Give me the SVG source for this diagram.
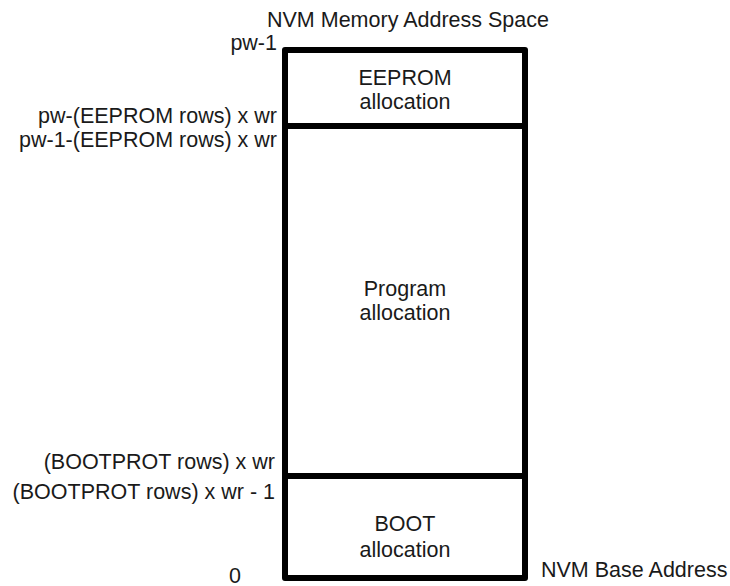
<svg xmlns="http://www.w3.org/2000/svg" width="730" height="586" viewBox="0 0 730 586">
<style>
text{font-family:"Liberation Sans",Arial,sans-serif;font-size:21.5px;fill:#1a1a1a}
.r{text-anchor:end}
.m{text-anchor:middle}
.box{fill:#fff;stroke:#000;stroke-width:6;stroke-linejoin:round}
.div{stroke:#000;stroke-width:6}
</style>
<rect width="730" height="586" fill="#fff"/>
<text class="m" x="408" y="27">NVM Memory Address Space</text>
<g id="memory">
<rect class="box" x="285" y="50" width="240" height="528"/>
</g>
<g id="connectors">
<line class="div" x1="285" y1="126" x2="525" y2="126"/>
<line class="div" x1="285" y1="476" x2="525" y2="476"/>
</g>
<g id="eeprom">
<text class="m" x="405" y="85">EEPROM</text>
<text class="m" x="405" y="109">allocation</text>
</g>
<g id="program">
<text class="m" x="405" y="296">Program</text>
<text class="m" x="405" y="320">allocation</text>
</g>
<g id="boot">
<text class="m" x="405" y="531">BOOT</text>
<text class="m" x="405" y="557">allocation</text>
</g>
<g id="labels">
<text class="r" x="277" y="50">pw-1</text>
<text class="r" x="277" y="123">pw-(EEPROM rows) x wr</text>
<text class="r" x="277" y="147">pw-1-(EEPROM rows) x wr</text>
<text class="r" x="275" y="469">(BOOTPROT rows) x wr</text>
<text class="r" x="275" y="499">(BOOTPROT rows) x wr - 1</text>
<text class="r" x="241" y="583">0</text>
<text x="541" y="577">NVM Base Address</text>
</g>
</svg>
